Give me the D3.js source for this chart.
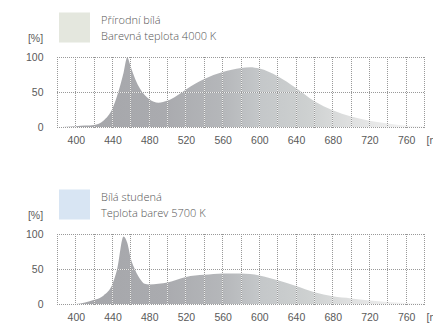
<!DOCTYPE html>
<html>
<head>
<meta charset="utf-8">
<script src="https://cdn.jsdelivr.net/npm/d3@7"></script>
<style>
  body { margin: 0; background: #fff; }
  svg { display: block; font-family: 'Open Sans', sans-serif; font-weight: 300; }
</style>
</head>
<body>
<div id="chart"></div>
<script>
// Data
const wavelengths = [380, 390, 400, 410, 420, 430, 440, 445, 452, 456, 460, 465, 470, 475, 480, 490, 500, 510, 520, 540, 560, 580, 590, 600, 620, 640, 660, 680, 700, 720, 740, 760, 780]
const natural4000 = [0, 0.5, 1, 2, 3, 9, 27, 45, 78, 100, 86, 68, 55, 46, 40, 35, 38, 45, 54, 69, 79, 85, 86, 84, 73, 56, 37, 24, 15, 9, 5, 2, 1]
const cool5700 = [0, 0, 0, 2, 6, 12, 29, 50, 97, 88, 65, 48, 36, 29, 28, 29, 31, 35, 39, 42, 44, 44, 43, 41, 34, 26, 17, 11, 8, 5, 3, 1.5, 1]
const xTicks = [400, 440, 480, 520, 560, 600, 640, 680, 720, 760]
const yTicks = [0, 50, 100]
const legendTitles = ['Přírodní bílá', 'Bílá studená']
const legendSubtitles = ['Barevná teplota 4000 K', 'Teplota barev 5700 K']
const swatchColors = ['#e4e7de', '#d8e5f3']

//Dimensions
let dimensions = {
    width: 433,
    height: 323,
    margin: { left: 57, right: 8 },
    ctrHeight: 69.5
}
dimensions.ctrWidth = dimensions.width - dimensions.margin.left - dimensions.margin.right - 0.5

const svg = d3.select('#chart')
    .append('svg')
    .attr('width', dimensions.width)
    .attr('height', dimensions.height)

// gradiente orizzontale del riempimento
const grad = svg.append('defs').append('linearGradient')
    .attr('id', 'fillGrad')
    .attr('gradientUnits', 'userSpaceOnUse')
    .attr('x1', 0).attr('x2', dimensions.ctrWidth)
    .attr('y1', 0).attr('y2', 0)
grad.selectAll('stop')
    .data([[0, '#a4a5a9'], [0.3, '#aaabaf'], [0.45, '#b5b7ba'], [0.55, '#c4c7c9'], [0.68, '#cdd0d0'], [0.8, '#dfe0e0'], [0.92, '#eeeeee'], [1, '#fafafa']])
    .join('stop')
    .attr('offset', d => d[0])
    .attr('stop-color', d => d[1])

//Scales
const xScale = d3.scaleLinear()
    .domain([380, 780])
    .range([0.5, dimensions.ctrWidth])
const yScale = d3.scaleLinear()
    .domain([0, 100])
    .range([dimensions.ctrHeight + 0.5, 0.5])

const crisp = v => Math.round(v - 0.5) + 0.5

function drawChart(values, idx, top) {
    const ctr = svg.append('g')
        .attr('transform', `translate(${dimensions.margin.left},${top})`)

    const pts = wavelengths.map((w, i) => ({ w, v: values[i] }))

    // area
    const area = d3.area()
        .x(d => xScale(d.w))
        .y0(yScale(0))
        .y1(d => yScale(d.v))
        .curve(d3.curveMonotoneX)
    ctr.append('path')
        .datum(pts)
        .attr('d', area)
        .attr('fill', 'url(#fillGrad)')

    // griglia: linea bianca sotto e puntini grigi sopra
    const vLines = d3.range(380, 781, 20)
    const grid = ctr.append('g')
    ;['#ffffff', '#999999'].forEach((c, k) => {
        const g = grid.append('g')
            .attr('stroke', c)
            .attr('stroke-width', 1)
            .attr('stroke-dasharray', k ? '1,1' : null)
            .attr('opacity', k ? 1 : 0.75)
        g.selectAll('line.v')
            .data(vLines)
            .join('line')
            .attr('x1', d => crisp(xScale(d))).attr('x2', d => crisp(xScale(d)))
            .attr('y1', 0).attr('y2', crisp(yScale(0)) + 0.5)
        g.selectAll('line.h')
            .data(yTicks)
            .join('line')
            .attr('x1', 0).attr('x2', crisp(xScale(780)) + 0.5)
            .attr('y1', d => crisp(yScale(d))).attr('y2', d => crisp(yScale(d)))
    })

    //Axes
    const xAxis = d3.axisBottom(xScale).tickValues(xTicks).tickSize(0).tickPadding(0)
    const xAxisGroup = ctr.append('g')
        .call(xAxis)
        .attr('transform', `translate(0,${dimensions.ctrHeight + 14})`)
    xAxisGroup.select('.domain').remove()
    xAxisGroup.selectAll('text')
        .attr('dy', '0.35em')
        .attr('y', 0)
        .attr('fill', '#5a5a5a')
        .attr('font-size', 10.5)
        .attr('font-family', null)

    // etichetta unità, tagliata dal bordo come nell'originale
    xAxisGroup.append('text')
        .attr('x', dimensions.ctrWidth + 2)
        .attr('y', 0)
        .attr('dy', '0.35em')
        .attr('text-anchor', 'start')
        .attr('fill', '#5a5a5a')
        .attr('font-size', 10.5)
        .text('[nm]')

    const yAxis = d3.axisLeft(yScale).tickValues(yTicks).tickSize(0).tickPadding(0)
    const yAxisGroup = ctr.append('g')
        .call(yAxis)
        .attr('transform', 'translate(-13.5,0)')
    yAxisGroup.select('.domain').remove()
    yAxisGroup.selectAll('text')
        .attr('fill', '#5a5a5a')
        .attr('font-size', 10.5)
        .attr('font-family', null)

    yAxisGroup.append('text')
        .attr('x', -8)
        .attr('y', -15.5)
        .attr('text-anchor', 'middle')
        .attr('fill', '#5a5a5a')
        .attr('font-size', 10.5)
        .text('[%]')

    // legenda
    const leg = ctr.append('g')
    leg.append('rect')
        .attr('x', 2)
        .attr('y', -44.5)
        .attr('width', 31)
        .attr('height', 30)
        .attr('fill', swatchColors[idx])
    leg.append('text')
        .attr('x', 44)
        .attr('y', -33)
        .attr('fill', '#555')
        .attr('font-size', 11)
        .text(legendTitles[idx])
    leg.append('text')
        .attr('x', 44)
        .attr('y', -17)
        .attr('fill', '#555')
        .attr('font-size', 11)
        .text(legendSubtitles[idx])
}

drawChart(natural4000, 0, 57)
drawChart(cool5700, 1, 234)
</script>
</body>
</html>
